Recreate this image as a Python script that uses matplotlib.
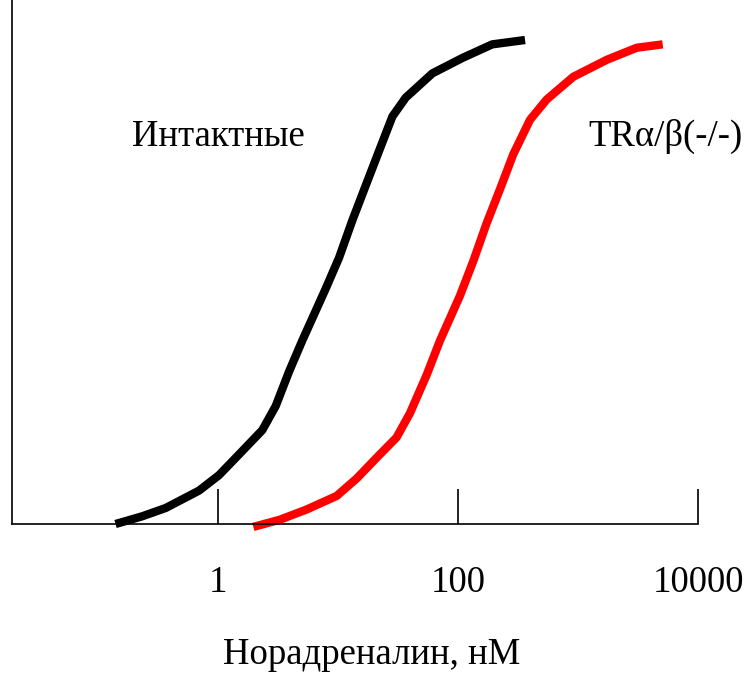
import numpy as np
import matplotlib
matplotlib.use("Agg")
import matplotlib.pyplot as plt

plt.rcParams['font.family'] = ['Liberation Serif', 'DejaVu Serif']

# concentration (nM) and response (% of max)
intact_x = [0.140, 0.234, 0.366, 0.695, 1.02, 1.50, 2.34, 3.03, 3.91, 5.04, 7.89,
            10.2, 13.2, 17.0, 22.0, 28.4, 36.7, 61.1, 109, 193, 362]
intact_y = [0, 1.6, 3.3, 6.9, 10.1, 14.4, 19.4, 24.4, 31.5, 37.9, 48.6,
            55.0, 62.8, 69.9, 77.1, 84.2, 88.1, 93.1, 96.3, 99.1, 100]

ko_x = [1.97, 3.29, 5.48, 9.75, 14.3, 21.0, 30.8, 39.8, 54.8, 70.8, 104,
        134, 173, 224, 289, 398, 548, 914, 1734, 3083, 5080]
ko_y = [-0.6, 0.9, 3.0, 5.8, 9.4, 13.7, 17.9, 22.9, 30.8, 37.9, 47.2,
        54.3, 62.1, 69.2, 76.4, 83.5, 87.7, 92.4, 95.9, 98.4, 99.1]

ticks = [1, 100, 10000]
tick_labels = ['1', '100', '10000']

fig = plt.figure(figsize=(7.49, 6.73), dpi=100)
ax = fig.add_axes([12 / 749, 1 - 524 / 673, 686 / 749, 524 / 673])

ax.plot(intact_x, intact_y, color='black', lw=6, solid_capstyle='butt',
        solid_joinstyle='round', clip_on=False)
ax.plot(ko_x, ko_y, color='#ff0000', lw=6, solid_capstyle='butt',
        solid_joinstyle='round', clip_on=False)

ax.set_xscale('log')
ax.set_xlim(10 ** (-206 / 120), 10000)
ax.set_ylim(0, 524 / 484 * 100)

ax.spines['right'].set_visible(False)
ax.spines['top'].set_visible(False)
ax.spines['left'].set_linewidth(1.2)
ax.spines['bottom'].set_linewidth(1.2)
ax.set_yticks([])
ax.set_xticks(ticks)
ax.set_xticklabels(tick_labels)
ax.xaxis.set_minor_locator(matplotlib.ticker.NullLocator())
ax.tick_params(axis='x', direction='in', length=25, width=1.2,
               labelsize=26.5, pad=30)

ax.text(0.175, 0.739, 'Интактные', transform=ax.transAxes,
        fontsize=26.5, ha='left', va='center')
ax.text(0.840, 0.739, 'TRα/β(-/-)', transform=ax.transAxes,
        fontsize=26.5, ha='left', va='center')

fig.text(372 / 749, 1 - 655 / 673, 'Норадреналин, нМ', fontsize=26.5,
         ha='center', va='center')

fig.savefig('out.png', dpi=100)
